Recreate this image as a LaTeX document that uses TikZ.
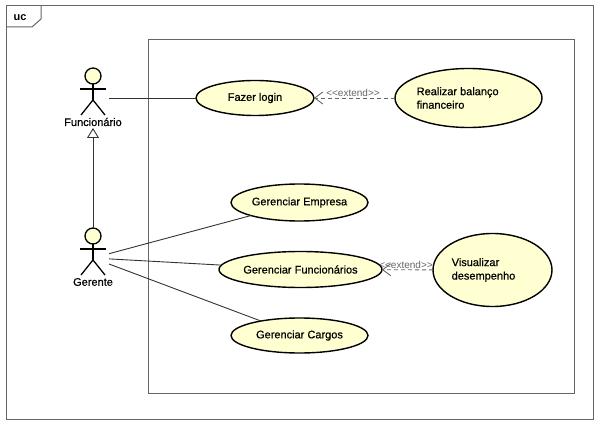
\documentclass[tikz,border=0pt]{standalone}
\usepackage{fontspec}
\setmainfont{Liberation Sans}
\newfontfamily\casefont[FakeBold=0.6]{Liberation Sans}
\usetikzlibrary{arrows.meta,positioning,shapes.geometric}

\definecolor{casefill}{HTML}{FFFFD2}
\definecolor{linegray}{HTML}{333333}
\definecolor{framegray}{HTML}{666666}

\tikzset{
        usecase/.style={ellipse, draw=black, fill=casefill, line width=1.4pt, inner sep=0pt, outer sep=0pt, font=\casefont\fontsize{11}{13}\selectfont},
        casetext/.style={inner sep=0pt, align=left, font=\casefont\fontsize{11}{13.5}\selectfont},
        actorbox/.style={minimum width=32pt, minimum height=60pt, inner sep=0pt, outer sep=0pt},
        assoc/.style={draw=linegray, line width=0.9pt},
        extendarrow/.style={draw=framegray, line width=0.9pt, dash pattern=on 4pt off 3pt, -{Straight Barb[length=8pt,width=12pt,line width=0.9pt]}},
        extendtext/.style={text=framegray, inner sep=0pt, font=\fontsize{10}{12}\selectfont},
        frameline/.style={draw=framegray, line width=1pt}
}

\begin{document}
\begin{tikzpicture}[x=1pt, y=-1pt]
        \useasboundingbox (0,0) rectangle (601,427);
        % frames
        \draw[frameline] (6,6) rectangle (593,419);
        \draw[frameline] (6,27) -- (32,27) -- (41,19) -- (41,6);
        \node[inner sep=0pt, font=\bfseries\fontsize{11}{13}\selectfont] (uc) at (20,18) {uc};
        \draw[frameline] (148,40) rectangle (574,393);

        % actors
        \node[actorbox] (Fu) at (93,98) {};
        \node[actorbox] (Ge) at (93,258) {};
        \foreach \a/\t in {Fu/Funcionário, Ge/Gerente} {
                \begin{scope}[shift={(\a.center)}, line width=1.3pt]
                        \draw[fill=casefill] (0,-22) circle [radius=8pt];
                        \draw (-13,-9) -- (13,-9);
                        \draw (0,-14) -- (0,2);
                        \draw (-12,17) -- (0,2) -- (12,17);
                        \node[casetext] (\a label) at (0,24) {\t};
                \end{scope}
        }

        % use cases
        \node[usecase, minimum width=118pt, minimum height=35pt] (FL) at (255,98) {Fazer login};
        \node[usecase, minimum width=147pt, minimum height=59pt] (RB) at (468.5,98) {};
        \node[usecase, minimum width=137pt, minimum height=37pt] (GE) at (299.5,202.5) {Gerenciar Empresa};
        \node[usecase, minimum width=163pt, minimum height=36pt] (GF) at (300.5,269.5) {Gerenciar Funcionários};
        \node[usecase, minimum width=119pt, minimum height=73pt] (VD) at (492.5,270) {};
        \node[usecase, minimum width=137pt, minimum height=35pt] (GC) at (299.5,335.5) {Gerenciar Cargos};
        \node[casetext, right=21.5pt of RB.west] (RBtext) {Realizar balanço\\financeiro};
        \node[casetext, right=18.5pt of VD.west] (VDtext) {Visualizar\\desempenho};

        % connectors
        \draw[assoc] (Fu) -- (FL);
        \draw[assoc] (Ge) -- (GE);
        \draw[assoc] (Ge) -- (GF);
        \draw[assoc] (Ge) -- (GC);
        \draw[assoc, -{Triangle[open, fill=white, length=10pt, width=12pt, line width=0.9pt]}] (Ge) -- (Fu);
        \draw[extendarrow] (RB) -- (FL);
        \draw[extendarrow] (VD) -- (GF);
        \node[extendtext] (ext1) at (353,92.5) {<{}<extend>{}>};
        \node[extendtext] (ext2) at (406,264.5) {<{}<extend>{}>};
\end{tikzpicture}
\end{document}
